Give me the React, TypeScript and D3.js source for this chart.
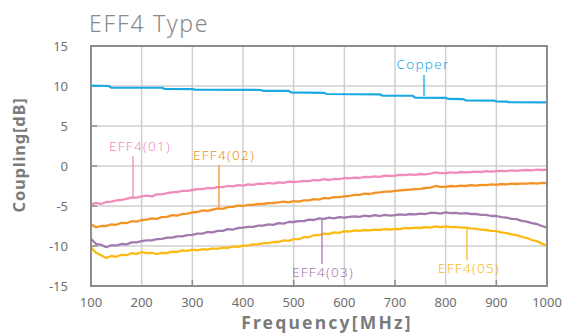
import React from "react";
import * as d3 from "d3";

const freqs: number[] = d3.range(100, 1001, 10);

const copperFreq = [100, 135, 140, 240, 245, 300, 305, 435, 440, 490, 495, 560, 565, 670, 675, 735, 740, 800, 805, 835, 840, 895, 900, 920, 925, 1000];
const copperVal = [10.05, 10.0, 9.8, 9.78, 9.65, 9.62, 9.55, 9.5, 9.4, 9.38, 9.2, 9.15, 9.0, 8.95, 8.8, 8.78, 8.55, 8.52, 8.38, 8.35, 8.2, 8.18, 8.08, 8.05, 7.98, 7.95];

const eff01 = [-4.85, -4.6, -4.75, -4.5, -4.45, -4.3, -4.25, -4.1, -3.95, -3.95, -3.8, -3.7, -3.8, -3.55, -3.55, -3.4, -3.3, -3.25, -3.1, -3.1, -3.0, -2.9, -2.9, -2.75, -2.8, -2.65, -2.65, -2.5, -2.55, -2.4, -2.45, -2.3, -2.35, -2.2, -2.25, -2.1, -2.2, -2.05, -2.1, -1.95, -2.0, -1.95, -1.85, -1.9, -1.75, -1.8, -1.65, -1.75, -1.6, -1.65, -1.5, -1.55, -1.45, -1.5, -1.35, -1.4, -1.3, -1.35, -1.2, -1.25, -1.2, -1.1, -1.15, -1.05, -1.1, -1.0, -1.05, -0.95, -0.8, -0.9, -0.9, -0.8, -0.85, -0.75, -0.8, -0.75, -0.7, -0.75, -0.65, -0.7, -0.65, -0.6, -0.65, -0.55, -0.6, -0.55, -0.5, -0.55, -0.45, -0.5, -0.45];
const eff02 = [-7.3, -7.65, -7.5, -7.5, -7.3, -7.35, -7.1, -7.15, -6.9, -6.95, -6.75, -6.7, -6.55, -6.6, -6.4, -6.35, -6.15, -6.2, -6.0, -5.95, -5.8, -5.75, -5.55, -5.6, -5.45, -5.3, -5.35, -5.15, -5.1, -4.95, -5.0, -4.85, -4.85, -4.75, -4.75, -4.65, -4.65, -4.55, -4.45, -4.55, -4.4, -4.45, -4.3, -4.3, -4.15, -4.2, -4.0, -4.05, -3.9, -3.9, -3.8, -3.75, -3.6, -3.6, -3.45, -3.5, -3.35, -3.3, -3.2, -3.2, -3.1, -3.05, -3.0, -2.95, -2.9, -2.85, -2.75, -2.7, -2.5, -2.6, -2.6, -2.5, -2.55, -2.45, -2.5, -2.4, -2.45, -2.35, -2.4, -2.3, -2.35, -2.25, -2.3, -2.2, -2.25, -2.2, -2.2, -2.15, -2.2, -2.1, -2.15];
const eff03 = [-9.1, -9.75, -9.85, -10.15, -9.9, -9.95, -9.75, -9.8, -9.55, -9.55, -9.4, -9.3, -9.3, -9.15, -9.1, -8.95, -8.95, -8.8, -8.8, -8.65, -8.6, -8.45, -8.45, -8.25, -8.3, -8.1, -8.1, -7.9, -7.95, -7.75, -7.7, -7.6, -7.6, -7.45, -7.45, -7.3, -7.35, -7.15, -7.2, -7.0, -7.0, -6.9, -6.9, -6.7, -6.75, -6.55, -6.6, -6.45, -6.55, -6.4, -6.45, -6.35, -6.3, -6.35, -6.2, -6.3, -6.15, -6.25, -6.1, -6.2, -6.15, -6.05, -6.1, -6.0, -6.05, -5.95, -6.0, -5.85, -5.85, -5.95, -5.8, -5.9, -5.85, -5.95, -5.9, -6.0, -6.0, -6.1, -6.1, -6.25, -6.25, -6.4, -6.45, -6.6, -6.65, -6.85, -6.95, -7.15, -7.25, -7.5, -7.7];
const eff05 = [-10.2, -10.85, -11.15, -11.5, -11.25, -11.35, -11.1, -11.15, -10.9, -11.0, -10.75, -10.9, -10.85, -11.0, -10.85, -10.9, -10.7, -10.75, -10.55, -10.6, -10.45, -10.55, -10.4, -10.45, -10.3, -10.35, -10.2, -10.25, -10.05, -10.1, -9.95, -9.95, -9.8, -9.8, -9.65, -9.65, -9.5, -9.5, -9.3, -9.35, -9.15, -9.15, -8.9, -8.9, -8.65, -8.65, -8.45, -8.5, -8.3, -8.35, -8.15, -8.2, -8.05, -8.1, -8.0, -8.05, -7.95, -8.0, -7.9, -7.95, -7.85, -7.9, -7.75, -7.8, -7.7, -7.75, -7.65, -7.7, -7.55, -7.65, -7.55, -7.65, -7.6, -7.7, -7.7, -7.8, -7.85, -7.95, -8.0, -8.1, -8.15, -8.3, -8.4, -8.55, -8.65, -8.85, -9.0, -9.25, -9.4, -9.7, -10.0];

const xTicks = [100, 200, 300, 400, 500, 600, 700, 800, 900, 1000];
const yTicks = [15, 10, 5, 0, -5, -10, -15];
const xMarkTicks = [300, 500, 700, 900];

const COLORS = {
  copper: "#1aa9e2",
  e01: "#f08cb9",
  e02: "#f39325",
  e03: "#a27aae",
  e05: "#fbbb13",
};

const seriesList = [
  { key: "e05", values: eff05, color: COLORS.e05 },
  { key: "e03", values: eff03, color: COLORS.e03 },
  { key: "e02", values: eff02, color: COLORS.e02 },
  { key: "e01", values: eff01, color: COLORS.e01 },
];

export default function App() {
  const left = 91, right = 547, top = 46, bottom = 286;
  const x = d3.scaleLinear().domain([100, 1000]).range([left, right]);
  const y = d3.scaleLinear().domain([-15, 15]).range([bottom, top]);
  const line = d3.line<[number, number]>().x((d) => x(d[0])).y((d) => y(d[1]));
  const copperPts: [number, number][] = copperFreq.map((f, i) => [f, copperVal[i]]);
  const font = "'Noto Sans', sans-serif";
  const labelFont = "'Noto Sans', sans-serif";

  const annotations = [
    { text: "Copper", tx: 423, ty: 69, lx: 424, y1: 75, y2: 96, color: COLORS.copper },
    { text: "EFF4(01)", tx: 140, ty: 151, lx: 133, y1: 156, y2: 197, color: COLORS.e01 },
    { text: "EFF4(02)", tx: 224, ty: 160, lx: 219, y1: 165, y2: 207, color: COLORS.e02 },
    { text: "EFF4(03)", tx: 323, ty: 277, lx: 322, y1: 220, y2: 264, color: COLORS.e03 },
    { text: "EFF4(05)", tx: 469, ty: 273, lx: 467, y1: 228, y2: 260, color: COLORS.e05 },
  ];

  return (
    <svg width={571} height={333} style={{ position: "absolute", left: 0, top: 0, background: "#fff" }}>
      <text x={89} y={32} fontFamily={font} fontSize={23} letterSpacing={1.8} fill="#8a8a8a" fontWeight={300}>EFF4 Type</text>
      {xTicks.map((t) => (
        <line key={"gx" + t} x1={x(t)} x2={x(t)} y1={top} y2={bottom} stroke="#cfcfcf" strokeWidth={1.5} />
      ))}
      {yTicks.map((t) => (
        <line key={"gy" + t} x1={left} x2={right} y1={y(t)} y2={y(t)} stroke="#cfcfcf" strokeWidth={1.5} />
      ))}
      {yTicks.map((t) => (
        <line key={"ty" + t} x1={left} x2={left + 6} y1={y(t)} y2={y(t)} stroke="#8c8c8c" strokeWidth={1.5} />
      ))}
      {xMarkTicks.map((t) => (
        <line key={"tx" + t} x1={x(t)} x2={x(t)} y1={bottom} y2={bottom - 6} stroke="#8c8c8c" strokeWidth={1.5} />
      ))}
      <path d={line(copperPts) || ""} fill="none" stroke={COLORS.copper} strokeWidth={2.2} />
      {seriesList.map((s) => (
        <path
          key={s.key}
          d={line(freqs.map((f, i) => [f, s.values[i]] as [number, number])) || ""}
          fill="none"
          stroke={s.color}
          strokeWidth={2.3}
          strokeLinejoin="round"
        />
      ))}
      <rect x={left} y={top} width={right - left} height={bottom - top} fill="none" stroke="#8c8c8c" strokeWidth={2} />
      {annotations.map((a) => (
        <g key={a.text}>
          <line x1={a.lx} x2={a.lx} y1={a.y1} y2={a.y2} stroke={a.color} strokeWidth={1.3} />
          <text x={a.tx} y={a.ty} textAnchor="middle" fontFamily={labelFont} fontSize={13.5} letterSpacing={1.3} fill={a.color} fontWeight={300}>{a.text}</text>
        </g>
      ))}
      {yTicks.map((t) => (
        <text key={"ly" + t} x={68} y={y(t) + 4.5} textAnchor="end" fontFamily={font} fontSize={13} fill="#6e6e6e">{t}</text>
      ))}
      {xTicks.map((t) => (
        <text key={"lx" + t} x={x(t)} y={307} textAnchor="middle" fontFamily={font} fontSize={13} fill="#6e6e6e">{t}</text>
      ))}
      <text x={327} y={329} textAnchor="middle" fontFamily={font} fontSize={17.5} letterSpacing={2.2} fontWeight={700} fill="#7b7b7b">Frequency[MHz]</text>
      <text transform={`translate(25,${155}) rotate(-90)`} textAnchor="middle" fontFamily={font} fontSize={16.5} letterSpacing={0.8} fontWeight={700} fill="#7b7b7b">Coupling[dB]</text>
    </svg>
  );
}
